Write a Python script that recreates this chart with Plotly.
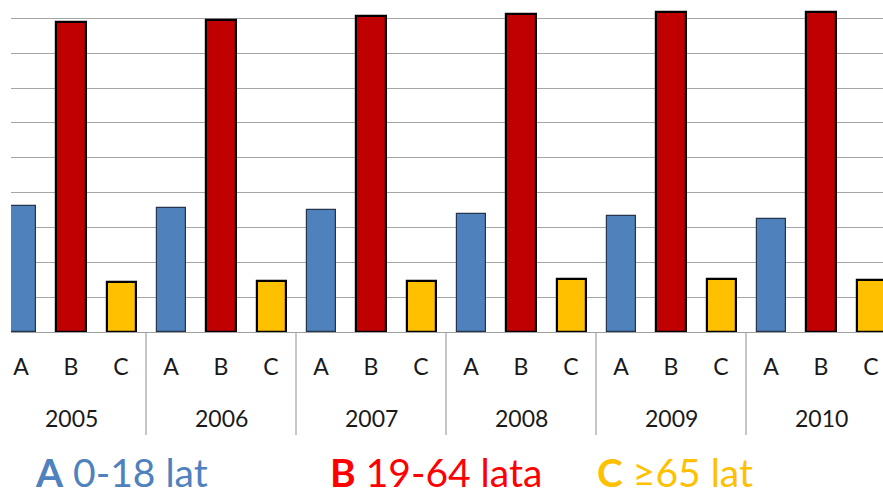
import plotly.graph_objects as go

# Age-group structure by year (values in gridline units)
years = ["2005", "2006", "2007", "2008", "2009", "2010"]
groups = ["A", "B", "C"]
group_a = [3.61, 3.55, 3.50, 3.39, 3.32, 3.25]   # 0-18 lat
group_b = [8.89, 8.96, 9.08, 9.12, 9.18, 9.19]   # 19-64 lata
group_c = [1.43, 1.46, 1.47, 1.51, 1.52, 1.50]   # >=65 lat

legend_labels = ["<b>A</b> 0-18 lat", "<b>B</b> 19-64 lata", "<b>C</b> \u226565 lat"]

W, H = 883, 494
M_L, M_R, M_T, M_B = 11, 0, 0, 162
PW = W - M_L - M_R
PH = H - M_T - M_B

FONT = "Lato"
blue, red, yellow = "#4F81BD", "#C00000", "#FFC000"

n = len(years)
pos = lambda k: [3 * g + k for g in range(n)]

fig = go.Figure()
fig.add_trace(go.Bar(x=pos(0), y=group_a, width=0.58,
                     marker=dict(color=blue, line=dict(color="#25354d", width=1.2))))
fig.add_trace(go.Bar(x=pos(1), y=group_b, width=0.6,
                     marker=dict(color=red, line=dict(color="#000000", width=2.2))))
fig.add_trace(go.Bar(x=pos(2), y=group_c, width=0.58,
                     marker=dict(color=yellow, line=dict(color="#000000", width=2.2))))

# Year labels under each group
for g, yr in enumerate(years):
    fig.add_annotation(x=3 * g + 1, xref="x", y=(PH - 417.7) / PH, yref="paper",
                       text=yr, showarrow=False, xanchor="center", yanchor="middle",
                       font=dict(family=FONT, size=23, color="#1a1a1a"))

# Group dividers below the axis
for g in range(1, n):
    fig.add_shape(type="line", xref="x", yref="paper",
                  x0=3 * g - 0.5, x1=3 * g - 0.5, y0=0, y1=(PH - 435) / PH,
                  line=dict(color="#a0a0a0", width=1.2))

# Coloured legend text
leg_x = [33, 328, 595]
leg_col = [blue, "#FF0000", "#FFC000"]
for x_px, txt, col in zip(leg_x, legend_labels, leg_col):
    fig.add_annotation(x=(x_px - M_L) / PW, xref="paper", y=(PH - 472) / PH, yref="paper",
                       text=txt, showarrow=False, xanchor="left", yanchor="middle",
                       font=dict(family=FONT, size=39, color=col))

tickvals = list(range(3 * n))
ticktext = groups * n

fig.update_layout(
    width=W, height=H,
    margin=dict(l=M_L, r=M_R, t=M_T, b=M_B, pad=0),
    paper_bgcolor="white", plot_bgcolor="white",
    showlegend=False, bargap=0,
    xaxis=dict(range=[-0.2, 17.24], tickvals=tickvals, ticktext=ticktext,
               showgrid=False, zeroline=False, showline=True, linecolor="#a0a0a0",
               linewidth=1.2, ticks="", ticklabelstandoff=14,
               tickfont=dict(family=FONT, size=23, color="#1a1a1a")),
    yaxis=dict(range=[0, 9.53], dtick=1, showgrid=True, gridcolor="#a6a6a6",
               gridwidth=1.2, zeroline=False, showticklabels=False, showline=False),
)

fig.write_html("out.html")
